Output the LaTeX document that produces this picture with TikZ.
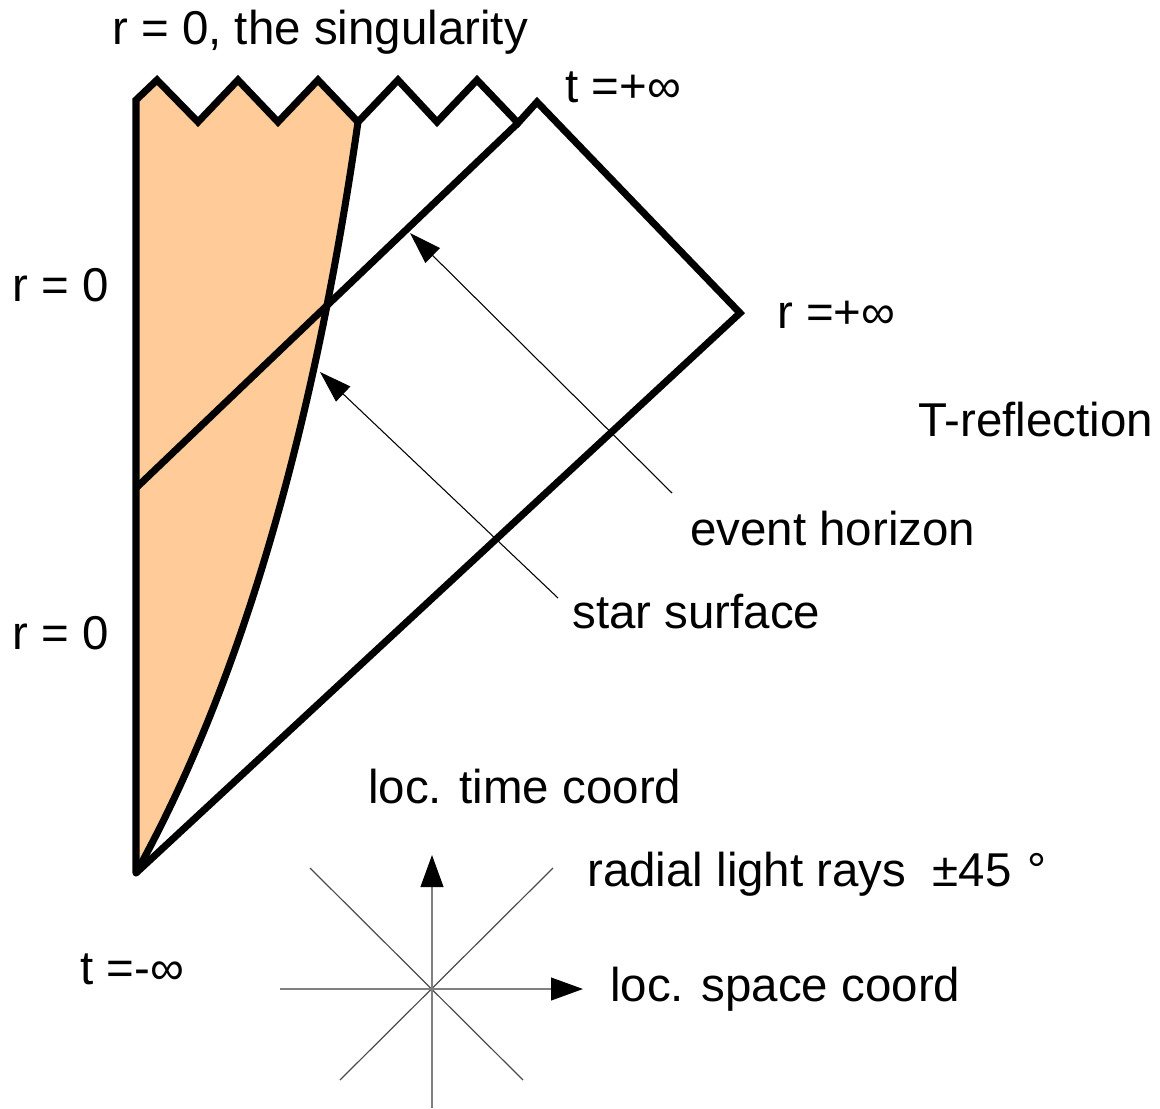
\documentclass[tikz,border=0pt]{standalone}
\usepackage{fontspec}
\setmainfont{Liberation Sans}
\usetikzlibrary{arrows.meta}
\definecolor{peach}{RGB}{255,204,153}
\begin{document}
\begin{tikzpicture}[x=0.75pt,y=-0.75pt,
 thickline/.style={line width=5.3pt, line join=miter},
 pointer/.style={line width=0.8pt, -{Triangle[length=24pt,width=15.5pt]}},
 axis/.style={line width=1.5pt, draw=gray, -{Triangle[length=24pt,width=17pt,color=black]}},
 ray/.style={line width=0.9pt, draw=black!70},
 lbl/.style={anchor=base west, inner sep=0pt, font=\fontsize{35.6}{43}\selectfont}]
\useasboundingbox (0,0) rectangle (1160,1109);
% key points
\coordinate (bot) at (136,873);
\coordinate (tl) at (136,100);
\coordinate (sz) at (358,122);
\coordinate (hz) at (518,123);
\coordinate (tp) at (537,102);
\coordinate (rp) at (740,313);
\coordinate (ehl) at (136,488);
% star interior
\fill[peach] (bot) -- (tl) -- (157,80) -- (198,122) -- (238,80) -- (278,122) -- (318,80) -- (sz)
  .. controls (312.7,437.3) and (238.7,687.7) .. (bot) -- cycle;
% boundary
\draw[thickline, line cap=round] (bot) -- (tl) -- (157,80) -- (198,122) -- (238,80) -- (278,122) -- (318,80) -- (sz)
  -- (398,80) -- (437,122) -- (477,80) -- (hz) -- (tp) -- (rp) -- (bot);
% event horizon
\draw[thickline] (hz) -- (ehl);
% star surface
\draw[thickline] (sz) .. controls (312.7,437.3) and (238.7,687.7) .. (bot);
% pointers
\coordinate (ehtail) at (672,493);
\coordinate (ehtip) at (410,233);
\coordinate (sstail) at (558,598);
\coordinate (sstip) at (320,372);
\draw[pointer] (ehtail) -- (ehtip);
\draw[pointer] (sstail) -- (sstip);
% light cone
\coordinate (c) at (432,989);
\coordinate (ctop) at (432,855);
\coordinate (cbot) at (432,1108);
\coordinate (cl) at (280,989);
\coordinate (cr) at (583,989);
\coordinate (d1) at (310,868);
\coordinate (d2) at (523,1080);
\coordinate (d3) at (553,868);
\coordinate (d4) at (340,1080);
\draw[ray] (d1) -- (d2);
\draw[ray] (d3) -- (d4);
\draw[axis] (cbot) -- (ctop);
\draw[axis] (cl) -- (cr);
% labels
\node[lbl] (lsing) at (112,45) {r = 0, the singularity};
\node[lbl] (ltp) at (565,103) {t =+\symbol{"221E}};
\node[lbl] (lr1) at (12,301) {r = 0};
\node[lbl] (lrp) at (777,329) {r =+\symbol{"221E}};
\node[lbl] (ltr) at (918,436) {T-reflection};
\node[lbl] (leh) at (690,545) {event horizon};
\node[lbl] (lss) at (572,628) {star surface};
\node[lbl] (lr2) at (12,649) {r = 0};
\node[lbl] (ltime) at (368,803) {loc. time coord};
\node[lbl] (lrays) at (587,886) {radial light rays \hspace{10pt}\symbol{"00B1}45 \hspace{2pt}\symbol{"00B0}};
\node[lbl] (ltm) at (80,984) {t =-\symbol{"221E}};
\node[lbl] (lspace) at (610,1001) {loc. space coord};
\end{tikzpicture}
\end{document}
